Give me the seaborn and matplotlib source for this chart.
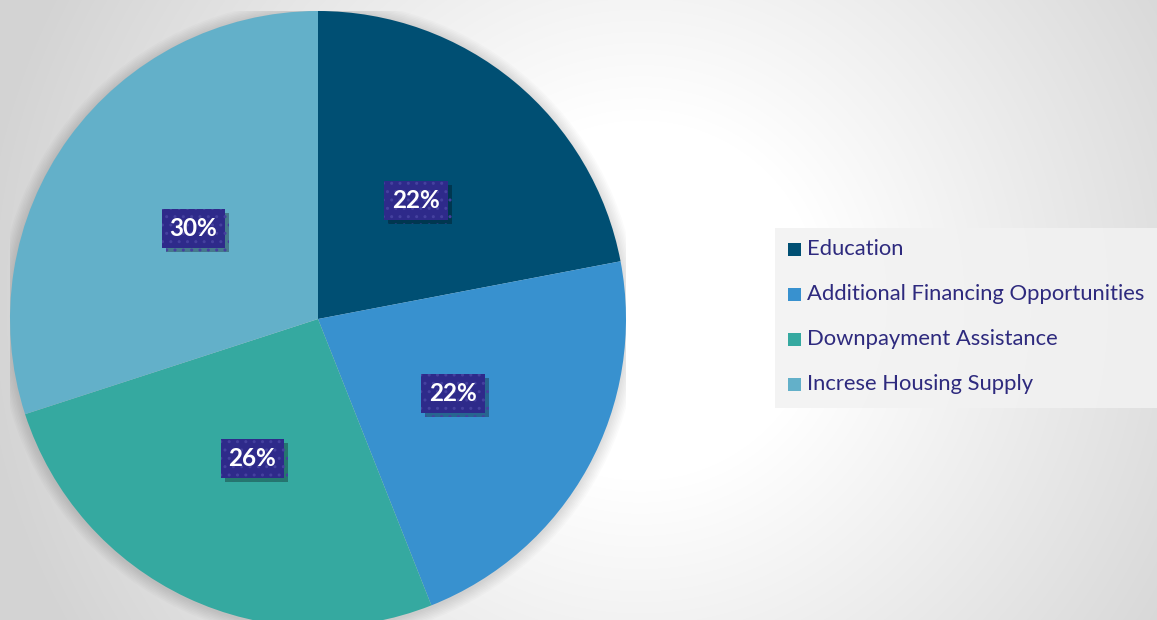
import numpy as np
import matplotlib
matplotlib.use("Agg")
import matplotlib.pyplot as plt
import seaborn as sns
from matplotlib.patches import Circle, Rectangle
import matplotlib.patheffects as pe

categories = ["Education", "Additional Financing Opportunities",
              "Downpayment Assistance", "Increse Housing Supply"]
values = [22, 22, 26, 30]
labels = ["22%", "22%", "26%", "30%"]
colors = ["#004F73", "#3891CF", "#35A9A0", "#63B0C9"]

sns.set_theme(style="white")
plt.rcParams["font.family"] = ["Lato", "DejaVu Sans"]

W, H = 1157, 620
fig = plt.figure(figsize=(W / 100, H / 100), dpi=100)

# background radial gradient
bg = fig.add_axes([0, 0, 1, 1])
yy, xx = np.mgrid[0:H, 0:W]
d = np.hypot(xx - 640, yy - 300)
v = 1 - 0.17 * np.clip((d - 180) / 480, 0, 1)
bg.imshow(np.dstack([v, v, v]), extent=[0, W, H, 0], aspect="auto")
bg.set_xlim(0, W); bg.set_ylim(H, 0)
bg.axis("off")

# pie axes
cx, cy, R = 318, 319, 308
ax = fig.add_axes([(cx - R) / W, (H - cy - R) / H, 2 * R / W, 2 * R / H])

# soft shadow
for k in range(8):
    r = 1 + 0.005 * (k + 1)
    ax.add_patch(Circle((0.0, -0.004), r, color="black", alpha=0.015, lw=0, zorder=0))

wedges, _ = ax.pie(values, colors=colors, startangle=90, counterclock=False,
                   radius=1, wedgeprops=dict(linewidth=0))
for w in wedges:
    w.set_zorder(2)
ax.set_xlim(-1, 1); ax.set_ylim(-1, 1)
ax.set_aspect("equal")
ax.axis("off")

# labels
cum = np.cumsum([0] + values)
total = sum(values)
for i, lab in enumerate(labels):
    mid = 90 - 360 * (cum[i] + values[i] / 2) / total
    x = 0.5 * np.cos(np.radians(mid))
    y = 0.5 * np.sin(np.radians(mid))
    t = ax.annotate(lab, (x, y), ha="center", va="center", fontsize=17.5,
                    fontweight="bold", color="white", zorder=4,
                    bbox=dict(boxstyle="square,pad=0.33", fc="#2E2A8A",
                              ec="#45419f", lw=0, hatch=".."))
    t.get_bbox_patch().set_path_effects(
        [pe.SimplePatchShadow(offset=(3, -3), shadow_rgbFace="black", alpha=0.3),
         pe.Normal()])

# legend
lg = fig.add_axes([0, 0, 1, 1])
lg.set_xlim(0, W); lg.set_ylim(H, 0)
lg.axis("off")
lg.add_patch(Rectangle((775, 228), W - 775, 180, fc="#f2f2f2", ec="none", alpha=0.85))
for i, (c, col) in enumerate(zip(categories, colors)):
    y = 249 + 45 * i
    lg.add_patch(Rectangle((788, y - 6), 13, 13, fc=col, ec="none"))
    lg.text(807, y, c, fontsize=15.8, color="#2E2A7E", va="center", ha="left")

fig.savefig("out.png", dpi=100)
